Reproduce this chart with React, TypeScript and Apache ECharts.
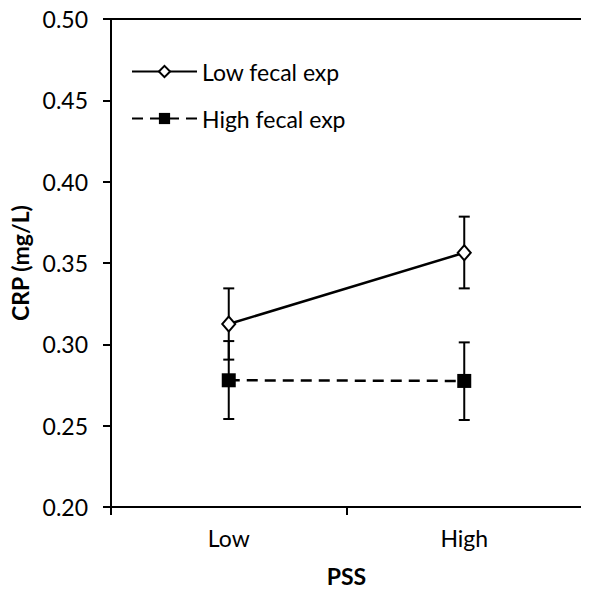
import React, { useEffect, useRef } from "react";
import * as echarts from "echarts";

const categories = ["Low", "High"];
const seriesNames = ["Low fecal exp", "High fecal exp"];
const lowFecalMean = [0.3125, 0.3563];
const lowFecalLower = [0.2906, 0.3344];
const lowFecalUpper = [0.3344, 0.3785];
const highFecalMean = [0.2779, 0.2775];
const highFecalLower = [0.2541, 0.2535];
const highFecalUpper = [0.302, 0.3012];
const yTicks = { min: 0.2, max: 0.5, interval: 0.05 };

const FONT = "Lato, 'Open Sans', sans-serif";
const FS = 23;

function errorSeries(lower: number[], upper: number[], name: string) {
  return {
    type: "custom",
    name: name + " err",
    z: 1,
    silent: true,
    data: categories.map((c, i) => [i, lower[i], upper[i]]),
    renderItem: (params: any, api: any) => {
      const x = api.value(0);
      const lo = api.coord([x, api.value(1)]);
      const hi = api.coord([x, api.value(2)]);
      const cap = 5.5;
      const style = { stroke: "#000", lineWidth: 2, fill: null };
      return {
        type: "group",
        children: [
          { type: "line", shape: { x1: lo[0], y1: lo[1], x2: hi[0], y2: hi[1] }, style },
          { type: "line", shape: { x1: lo[0] - cap, y1: lo[1], x2: lo[0] + cap, y2: lo[1] }, style },
          { type: "line", shape: { x1: hi[0] - cap, y1: hi[1], x2: hi[0] + cap, y2: hi[1] }, style },
        ],
      };
    },
  };
}

export default function App() {
  const ref = useRef<HTMLDivElement>(null);
  useEffect(() => {
    const chart = echarts.init(ref.current!, null, { renderer: "svg" });
    chart.setOption({
      animation: false,
      backgroundColor: "#fff",
      textStyle: { fontFamily: FONT, color: "#000" },
      grid: { left: 111, right: 7, top: 19, bottom: 92, show: true, borderColor: "#000", borderWidth: 2 },
      legend: {
        orient: "vertical",
        left: 126,
        top: 55,
        itemWidth: 65,
        itemHeight: 14,
        itemGap: 24,
        data: seriesNames,
        textStyle: { fontFamily: FONT, fontSize: FS, color: "#000" },
      },
      xAxis: {
        type: "category",
        data: categories,
        boundaryGap: true,
        axisLine: { lineStyle: { color: "#000", width: 2 } },
        axisTick: { show: true, length: 8, inside: false, lineStyle: { color: "#000", width: 2 } },
        axisLabel: { fontFamily: FONT, fontSize: FS, color: "#000", margin: 19 },
        name: "PSS",
        nameLocation: "middle",
        nameGap: 57,
        nameTextStyle: { fontFamily: FONT, fontSize: FS, fontWeight: "bold", color: "#000" },
      },
      yAxis: {
        type: "value",
        min: yTicks.min,
        max: yTicks.max,
        interval: yTicks.interval,
        splitLine: { show: false },
        axisLine: { show: true, lineStyle: { color: "#000", width: 2 } },
        axisTick: { show: true, length: 8, inside: false, lineStyle: { color: "#000", width: 2 } },
        axisLabel: {
          fontFamily: FONT,
          fontSize: FS,
          color: "#000",
          margin: 23,
          formatter: (v: number) => v.toFixed(2),
        },
        name: "CRP (mg/L)",
        nameLocation: "middle",
        nameGap: 78,
        nameTextStyle: { fontFamily: FONT, fontSize: FS, fontWeight: "bold", color: "#000" },
      },
      series: [
        errorSeries(lowFecalLower, lowFecalUpper, seriesNames[0]),
        errorSeries(highFecalLower, highFecalUpper, seriesNames[1]),
        {
          type: "line",
          name: seriesNames[0],
          data: lowFecalMean,
          z: 3,
          symbol: "diamond",
          symbolSize: [13, 15],
          itemStyle: { color: "#fff", borderColor: "#000", borderWidth: 2 },
          lineStyle: { color: "#000", width: 2.5, type: "solid" },
        },
        {
          type: "line",
          name: seriesNames[1],
          data: highFecalMean,
          z: 3,
          symbol: "rect",
          symbolSize: 14,
          itemStyle: { color: "#000", borderColor: "#000", borderWidth: 0 },
          lineStyle: { color: "#000", width: 2.5, type: [11, 7] },
        },
      ],
    });
    return () => chart.dispose();
  }, []);
  return <div ref={ref} style={{ width: 589, height: 599, marginLeft: -8, marginTop: -8 }} />;
}
